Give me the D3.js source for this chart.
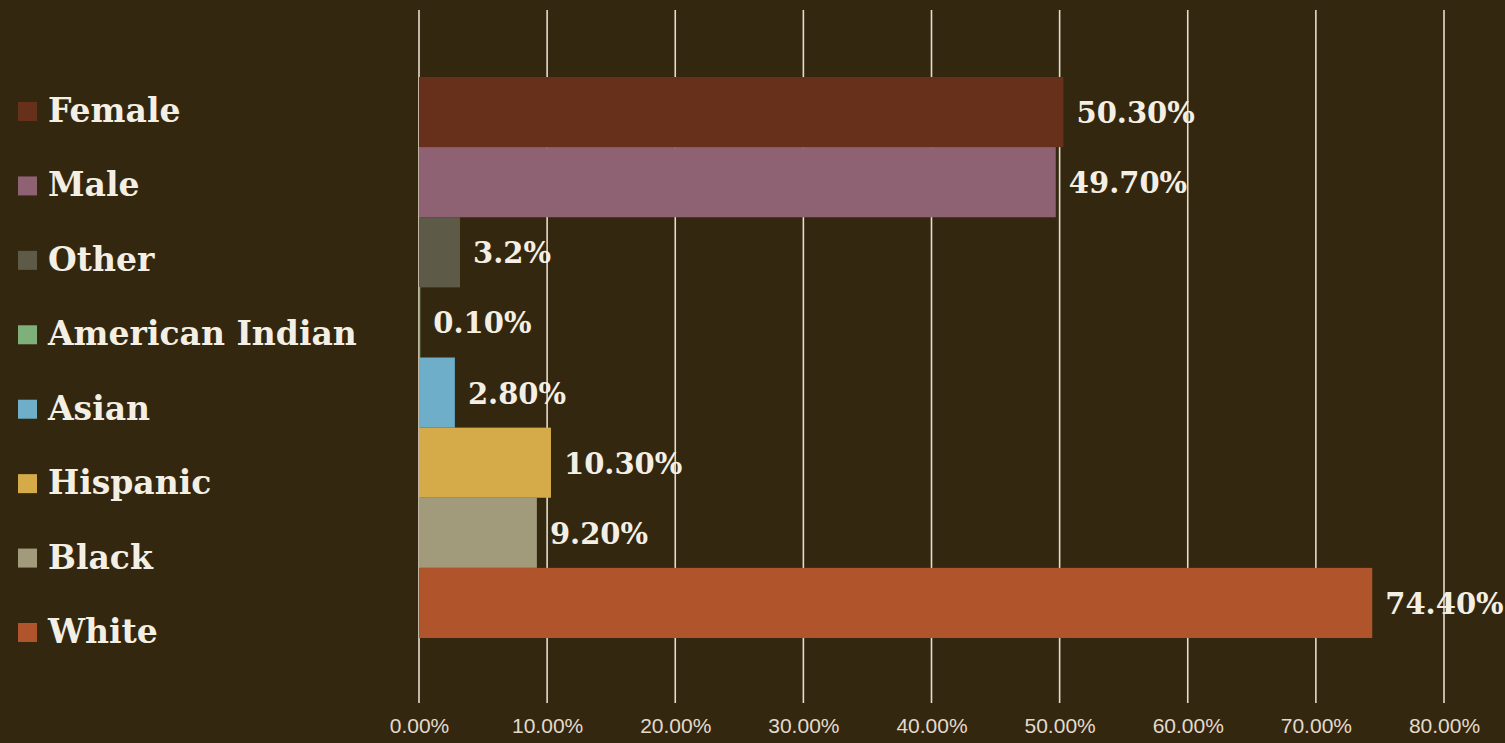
<!DOCTYPE html>
<html lang="en">
	<head>
		<meta charset="utf-8">
		<title>Demographics</title>
		<script src="https://d3js.org/d3.v7.min.js"></script>
		<style>
			body { margin: 0; background: #33270f; }
		</style>
	</head>
	<body>
		<script type="text/javascript">

			// chart data
			var categories = ["Female", "Male", "Other", "American Indian", "Asian", "Hispanic", "Black", "White"];
			var values = [50.3, 49.7, 3.2, 0.1, 2.8, 10.3, 9.2, 74.4];
			var valueLabels = ["50.30%", "49.70%", "3.2%", "0.10%", "2.80%", "10.30%", "9.20%", "74.40%"];
			var colors = ["#66301a", "#8e6173", "#5e5a48", "#80b07a", "#6eaec9", "#d5ab4a", "#a19b7b", "#b0552b"];
			var xTicks = [0, 10, 20, 30, 40, 50, 60, 70, 80];

			// size of svg
			var w = 1505;
			var h = 743;

			var svg = d3.select("body").append("svg").attr("width", w).attr("height", h);

			svg.append("rect").attr("width", w).attr("height", h).attr("fill", "#33270f");

			// scales
			var xScale = d3.scaleLinear()
				.domain([0, 80])
				.range([419, 1444]);

			var yScale = d3.scaleBand()
				.domain(categories)
				.range([77, 638])
				.padding(0);

			var legendScale = d3.scalePoint()
				.domain(categories)
				.range([111, 632]);

			// gridlines
			svg.append("g")
				.selectAll("line")
				.data(xTicks)
				.enter()
				.append("line")
				.attr("x1", function(d) { return xScale(d); })
				.attr("x2", function(d) { return xScale(d); })
				.attr("y1", 10)
				.attr("y2", 703)
				.attr("stroke", "#e6dccb")
				.attr("stroke-width", 1.6);

			// x axis labels
			var xAxis = d3.axisBottom(xScale)
				.tickValues(xTicks)
				.tickSize(0)
				.tickPadding(0)
				.tickFormat(function(d) { return d3.format(".2f")(d) + "%"; });

			var axisG = svg.append("g")
				.attr("transform", "translate(0,718)")
				.call(xAxis);
			axisG.select(".domain").remove();
			axisG.selectAll("text")
				.attr("fill", "#e3dacb")
				.attr("font-family", "'Liberation Sans', sans-serif")
				.attr("font-size", 21);

			// bars
			svg.append("g")
				.selectAll("rect")
				.data(values)
				.enter()
				.append("rect")
				.attr("x", xScale(0))
				.attr("y", function(d, i) { return yScale(categories[i]); })
				.attr("width", function(d) { return xScale(d) - xScale(0); })
				.attr("height", yScale.bandwidth())
				.attr("fill", function(d, i) { return colors[i]; });

			// value labels
			svg.append("g")
				.selectAll("text")
				.data(values)
				.enter()
				.append("text")
				.attr("x", function(d) { return xScale(d) + 13; })
				.attr("y", function(d, i) { return yScale(categories[i]) + yScale.bandwidth() / 2 + 3; })
				.attr("dominant-baseline", "middle")
				.attr("fill", "#f4efe4")
				.attr("font-family", "'DejaVu Serif', serif")
				.attr("font-weight", "bold")
				.attr("font-size", 29)
				.text(function(d, i) { return valueLabels[i]; });

			// legend
			var legend = svg.append("g")
				.selectAll("g")
				.data(categories)
				.enter()
				.append("g")
				.attr("transform", function(d) { return "translate(0," + legendScale(d) + ")"; });

			legend.append("rect")
				.attr("x", 18)
				.attr("y", -9)
				.attr("width", 19)
				.attr("height", 19)
				.attr("fill", function(d, i) { return colors[i]; });

			legend.append("text")
				.attr("x", 48)
				.attr("y", 2)
				.attr("dominant-baseline", "middle")
				.attr("fill", "#f4efe4")
				.attr("font-family", "'DejaVu Serif', serif")
				.attr("font-weight", "bold")
				.attr("font-size", 33)
				.text(function(d) { return d; });

		</script>
	</body>
</html>
